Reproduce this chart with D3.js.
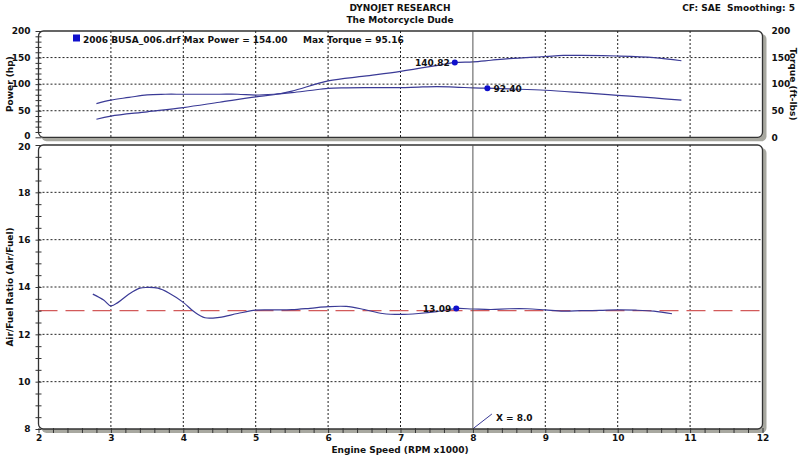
<!DOCTYPE html>
<html><head><meta charset="utf-8">
<script src="https://cdn.jsdelivr.net/npm/d3@7"></script>
<style>
body{margin:0;background:#fff;}
svg{display:block;font-family:"DejaVu Sans",Verdana,sans-serif;}
text{white-space:pre;}
</style></head>
<body><svg id="c" width="800" height="455"></svg>
<script>
// ---- data ----
const powerRpm = [2.8,3.0,3.5,4.0,4.5,5.0,5.25,5.5,6.0,6.5,7.0,7.5,7.75,8.0,8.25,8.5,9.0,9.25,9.5,10.0,10.5,10.88];
const powerHp  = [34,40,48,56,66,76,80,87,106,115,124,135,140.82,142,145,148,152,154,154,153,150,144];
const torqueRpm = [2.8,3.0,3.25,3.5,3.75,4.0,4.5,4.75,5.0,5.25,5.5,5.75,6.0,6.25,6.5,6.75,7.0,7.25,7.5,7.75,8.0,8.2,8.5,9.0,9.5,10.0,10.5,10.88];
const torqueFt  = [63.5,70,75,80,81,81,81,81,79.5,81,84,88,92,93,93.5,93.5,93.5,94.5,95.16,94.5,93,92.4,91,88.5,84,79,74,70];
const afrRpm = [2.75,2.9,3.0,3.1,3.25,3.4,3.5,3.65,3.8,4.0,4.15,4.3,4.5,4.75,5.0,5.25,5.5,5.75,6.0,6.25,6.5,6.75,7.0,7.25,7.5,7.77,8.0,8.25,8.5,8.75,9.0,9.25,9.5,9.75,10.0,10.25,10.5,10.75];
const afrVal = [13.7,13.45,13.2,13.35,13.7,13.95,13.98,13.95,13.75,13.35,12.95,12.7,12.72,12.88,13.02,13.03,13.04,13.1,13.17,13.18,13.05,12.88,12.84,12.88,12.96,13.09,13.07,13.05,13.08,13.08,13.03,12.98,13.0,13.01,13.03,13.02,12.98,12.87];
const afrTarget = 13.0;
const xTicks = [2,3,4,5,6,7,8,9,10,11,12];
const powerTicks = [0,50,100,150,200];
const afrTicks = [8,10,12,14,16,18,20];
const markers = [
  {series:"power", x:7.75, y:140.82, label:"140.82", side:"left"},
  {series:"torque", x:8.2, y:92.40, label:"92.40", side:"right"},
  {series:"afr", x:7.77, y:13.09, label:"13.09", side:"left"}
];
const cursorX = 8.0;
const titleLines = ["DYNOJET RESEARCH","The Motorcycle Dude"];
const cornerText = "CF: SAE  Smoothing: 5";
const legendText = "2006 BUSA_006.drf Max Power = 154.00";
const legendText2 = "Max Torque = 95.16";

// ---- layout ----
const svg = d3.select("#c");
const x = d3.scaleLinear([2,12],[38.5,762.5]);
const yP = d3.scaleLinear([0,200],[137.3,31]);
const yA = d3.scaleLinear([8,20],[429,145]);
const lineCol = "#3a3a96", dotCol = "#1010cc", gridCol = "#222";
const fontB = {"font-weight":"bold","font-size":"9px",fill:"#111"};
function applyFont(sel){ for(const k in fontB) sel.attr(k,fontB[k]); return sel; }
function styleLabels(sel){ sel.attr("font-family","DejaVu Sans").attr("font-weight","bold").attr("font-size","9px").attr("fill","#111"); return sel; }

// header
titleLines.forEach((t,i)=>applyFont(svg.append("text")).attr("x",400).attr("y",11+i*12).attr("text-anchor","middle").text(t));
applyFont(svg.append("text")).attr("x",795).attr("y",11).attr("text-anchor","end").text(cornerText);

function panel(yScale, y0, y1){
  const g = svg.append("g");
  const x0 = x(2), x1 = x(12), top = yScale(y1), bot = yScale(y0);
  g.append("rect").attr("x",x0+3).attr("y",top+3).attr("width",x1-x0+1).attr("height",bot-top+1)
    .attr("rx",5).attr("fill","#a8a8a0");
  g.append("rect").attr("x",x0).attr("y",top).attr("width",x1-x0).attr("height",bot-top)
    .attr("rx",5).attr("fill","#fff").attr("stroke","#333").attr("stroke-width",1.3);
  return g;
}

// ---- top panel ----
const gt = panel(yP,0,200);
gt.selectAll(".vg").data(xTicks.filter(v=>v>2&&v<12&&v!==cursorX)).join("line")
  .attr("x1",d=>x(d)).attr("x2",d=>x(d)).attr("y1",yP(200)).attr("y2",yP(0))
  .attr("stroke",gridCol).attr("stroke-dasharray","2,2").attr("stroke-width",1);
gt.selectAll(".hg").data(powerTicks.filter(v=>v>0&&v<200)).join("line")
  .attr("x1",x(2)).attr("x2",x(12)).attr("y1",d=>yP(d)).attr("y2",d=>yP(d))
  .attr("stroke",gridCol).attr("stroke-dasharray","2,2").attr("stroke-width",1);
// left axis
const axL = svg.append("g").attr("transform",`translate(${x(2)+3},0)`)
  .call(d3.axisLeft(yP).tickValues(d3.range(0,201,10)).tickSize(6).tickFormat(""));
axL.select(".domain").remove();
axL.selectAll("line").attr("stroke","#333");
const axLl = svg.append("g").attr("transform",`translate(${x(2)-5},0)`)
  .call(d3.axisLeft(yP).tickValues(powerTicks).tickSize(0));
axLl.select(".domain").remove();
styleLabels(axLl.selectAll("text")).attr("dy",d=>d===0?"0.15em":"0.3em");
const axR = svg.append("g").attr("transform",`translate(${x(12)+6},0)`)
  .call(d3.axisRight(yP).tickValues(powerTicks).tickSize(0));
axR.select(".domain").remove();
styleLabels(axR.selectAll("text")).attr("dy","0.3em");

const lineP = d3.line().x((d,i)=>x(powerRpm[i])).y(d=>yP(d)).curve(d3.curveCatmullRom);
const lineT = d3.line().x((d,i)=>x(torqueRpm[i])).y(d=>yP(d)).curve(d3.curveCatmullRom);
gt.append("path").attr("d",lineT(torqueFt)).attr("fill","none").attr("stroke",lineCol).attr("stroke-width",1.2);
gt.append("path").attr("d",lineP(powerHp)).attr("fill","none").attr("stroke",lineCol).attr("stroke-width",1.2);
gt.append("line").attr("x1",x(cursorX)).attr("x2",x(cursorX)).attr("y1",yP(200)).attr("y2",yP(0)).attr("stroke","#555").attr("stroke-width",1);

// legend
svg.append("rect").attr("x",73).attr("y",34.5).attr("width",7).attr("height",7).attr("fill",dotCol);
applyFont(svg.append("text")).attr("x",83).attr("y",43).text(legendText);
applyFont(svg.append("text")).attr("x",303).attr("y",43).text(legendText2);

// ---- bottom panel ----
const gb = panel(yA,8,20);
gb.selectAll(".vg").data(xTicks.filter(v=>v>2&&v<12&&v!==cursorX)).join("line")
  .attr("x1",d=>x(d)).attr("x2",d=>x(d)).attr("y1",yA(20)).attr("y2",yA(8))
  .attr("stroke",gridCol).attr("stroke-dasharray","2,2").attr("stroke-width",1);
gb.selectAll(".hg").data(afrTicks.filter(v=>v>8&&v<20)).join("line")
  .attr("x1",x(2)).attr("x2",x(12)).attr("y1",d=>yA(d)).attr("y2",d=>yA(d))
  .attr("stroke",gridCol).attr("stroke-dasharray","2,2").attr("stroke-width",1);
gb.append("line").attr("x1",x(2)).attr("x2",x(12)).attr("y1",yA(afrTarget)).attr("y2",yA(afrTarget))
  .attr("stroke","#d25a5a").attr("stroke-width",1.2).attr("stroke-dasharray","19,8");
const axLb = svg.append("g").attr("transform",`translate(${x(2)+3},0)`)
  .call(d3.axisLeft(yA).tickValues(d3.range(8,20.01,0.5)).tickSize(6).tickFormat(""));
axLb.select(".domain").remove();
axLb.selectAll("line").attr("stroke","#333");
const axLbl = svg.append("g").attr("transform",`translate(${x(2)-5},0)`)
  .call(d3.axisLeft(yA).tickValues(afrTicks).tickSize(0));
axLbl.select(".domain").remove();
styleLabels(axLbl.selectAll("text")).attr("dy",d=>d===20?"0.5em":"0.3em");
// x axis
const axB = svg.append("g").attr("transform",`translate(0,${yA(8)+4})`)
  .call(d3.axisTop(x).tickValues(d3.range(2,12.01,0.2)).tickSize(5).tickFormat(""));
axB.select(".domain").remove();
axB.selectAll("line").attr("stroke","#333");
const axBl = svg.append("g").attr("transform",`translate(0,${yA(8)+3})`)
  .call(d3.axisBottom(x).tickValues(xTicks).tickSize(0));
axBl.select(".domain").remove();
styleLabels(axBl.selectAll("text"));

const lineA = d3.line().x((d,i)=>x(afrRpm[i])).y(d=>yA(d)).curve(d3.curveCatmullRom);
gb.append("path").attr("d",lineA(afrVal)).attr("fill","none").attr("stroke",lineCol).attr("stroke-width",1.2);
gb.append("line").attr("x1",x(cursorX)).attr("x2",x(cursorX)).attr("y1",yA(20)).attr("y2",yA(8)).attr("stroke","#555").attr("stroke-width",1);

// markers
markers.forEach(m=>{
  const ys = m.series==="afr" ? yA : yP;
  const cx = x(m.x), cy = ys(m.y);
  svg.append("circle").attr("cx",cx).attr("cy",cy).attr("r",3).attr("fill",dotCol);
  applyFont(svg.append("text")).attr("x", m.side==="left"? cx-5 : cx+6).attr("y",cy+3.5)
    .attr("text-anchor", m.side==="left"?"end":"start").text(m.label);
});
// cursor annotation
svg.append("line").attr("x1",x(cursorX)+1).attr("y1",yA(8)-1).attr("x2",x(cursorX)+19).attr("y2",yA(8)-15).attr("stroke",lineCol).attr("stroke-width",1);
applyFont(svg.append("text")).attr("x",x(cursorX)+23).attr("y",yA(8)-8).text("X = " + cursorX.toFixed(1));

// axis titles
applyFont(svg.append("text")).attr("transform",`translate(13,${(yP(0)+yP(200))/2}) rotate(-90)`).attr("text-anchor","middle").text("Power (hp)");
applyFont(svg.append("text")).attr("transform",`translate(790,${(yP(0)+yP(200))/2}) rotate(90)`).attr("text-anchor","middle").text("Torque (ft-lbs)");
applyFont(svg.append("text")).attr("transform",`translate(13,${(yA(8)+yA(20))/2}) rotate(-90)`).attr("text-anchor","middle").text("Air/Fuel Ratio (Air/Fuel)");
applyFont(svg.append("text")).attr("x",400).attr("y",453).attr("text-anchor","middle").text("Engine Speed (RPM x1000)");
</script></body></html>
